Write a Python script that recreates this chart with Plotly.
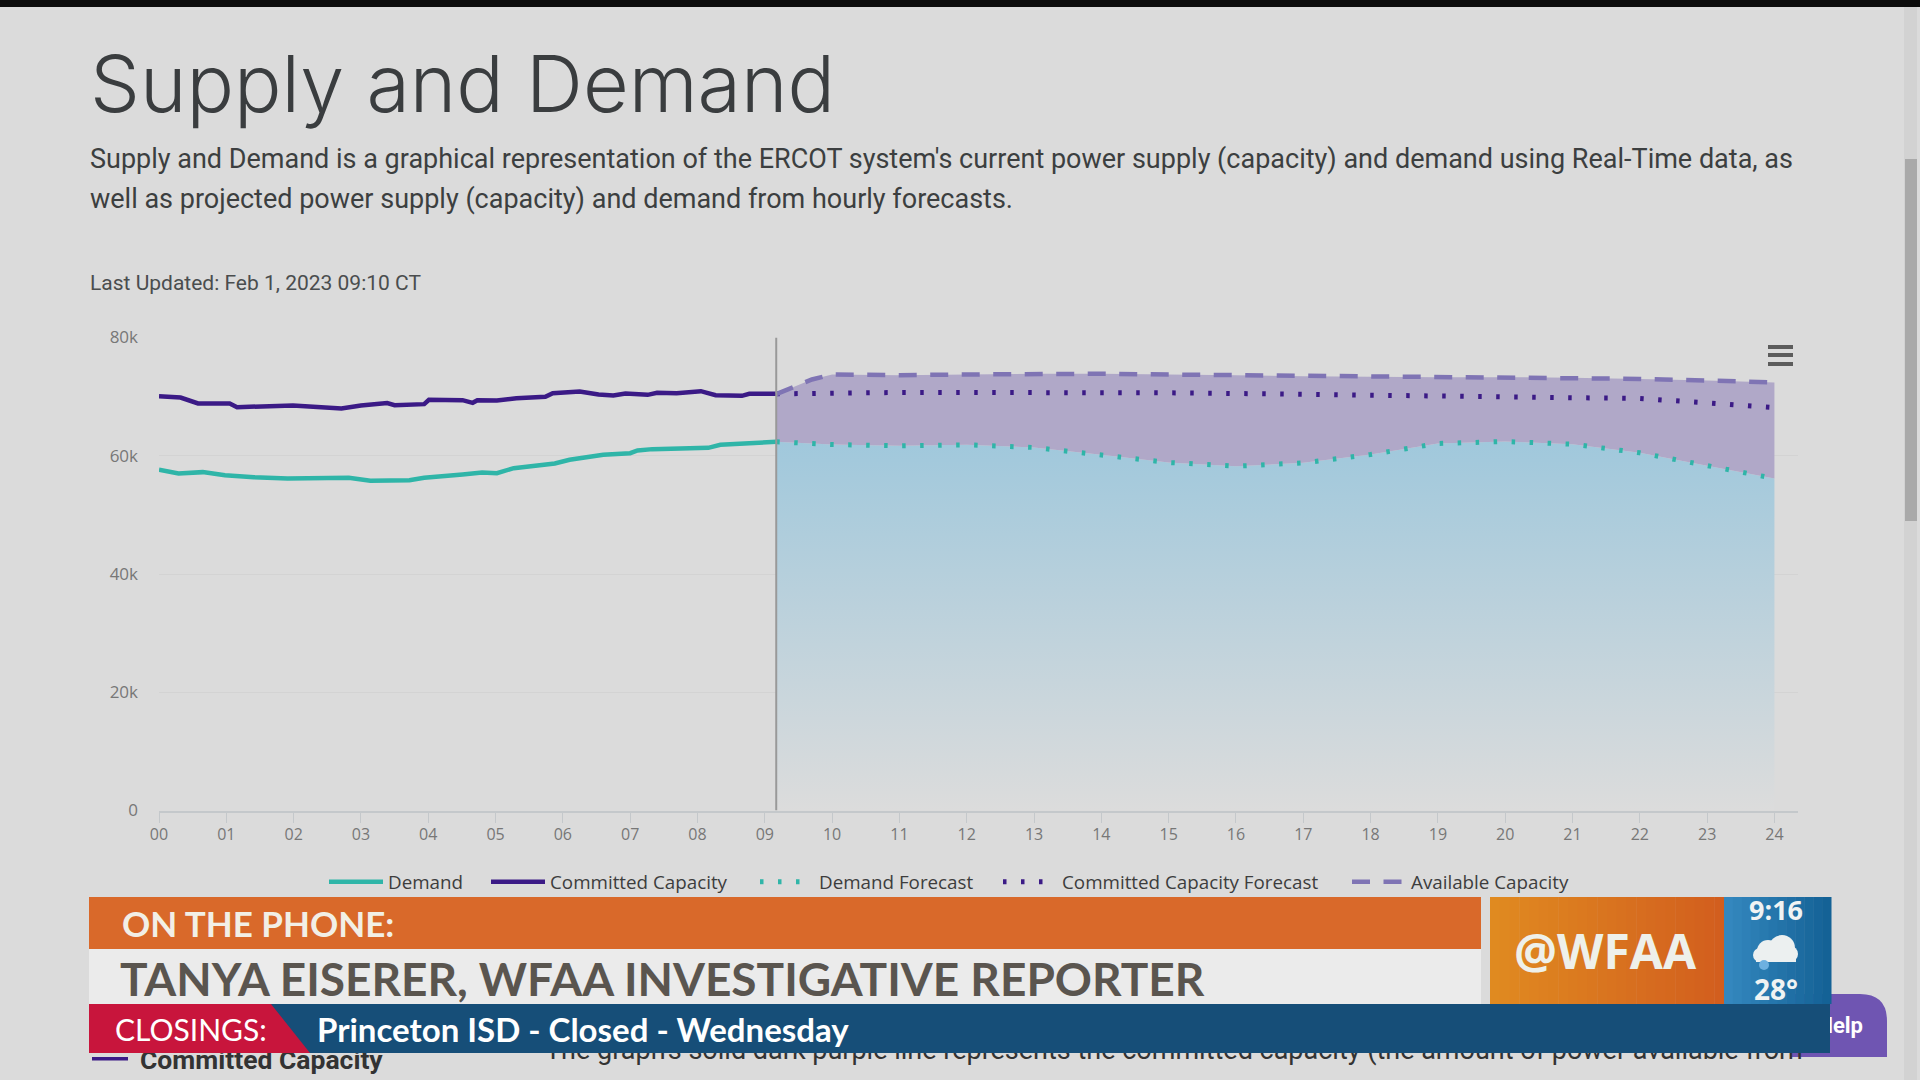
import plotly.graph_objects as go

# ---------- data (hours of the day, MW) ----------
demand_h = [0, .29, .65, .98, 1.41, 1.91, 2.82, 3.14, 3.72, 3.94, 4.51, 4.8, 5.02, 5.27, 5.88, 6.1, 6.6, 7.0, 7.11, 7.33, 8.16, 8.34, 8.77, 9.17]
demand_v = [57620, 57000, 57230, 56720, 56380, 56150, 56270, 55760, 55870, 56270, 56830, 57170, 57060, 57900, 58690, 59310, 60160, 60440, 60890, 61120, 61340, 61850, 62130, 62360]

committed_h = [0, .32, .58, 1.05, 1.16, 1.99, 2.71, 3.0, 3.39, 3.5, 3.94, 4.01, 4.51, 4.66, 4.73, 5.02, 5.31, 5.74, 5.85, 6.25, 6.53, 6.75, 6.93, 7.26, 7.4, 7.69, 8.05, 8.27, 8.66, 8.77, 9.17]
committed_v = [70080, 69850, 68840, 68840, 68220, 68500, 67990, 68500, 68900, 68560, 68730, 69460, 69400, 68950, 69400, 69350, 69740, 69970, 70590, 70870, 70360, 70190, 70530, 70300, 70640, 70590, 70920, 70250, 70130, 70470, 70470]

forecast_h = [9.17, 10, 11, 12, 13, 14, 15, 16, 17, 18, 19, 20, 21, 22, 23, 24]
demand_fc = [62360, 61900, 61680, 61850, 61400, 60160, 58860, 58240, 58800, 60210, 62070, 62410, 61960, 60500, 58300, 56160]
committed_fc = [70470, 70640, 70700, 70700, 70750, 70750, 70640, 70530, 70420, 70190, 70130, 70020, 69970, 69680, 68950, 68160]

available_h = [9.17, 9.4, 9.7, 10, 11, 12, 13, 14, 15, 16, 17, 18, 19, 20, 21, 22, 23, 24]
available_v = [70420, 71490, 72900, 73740, 73630, 73740, 73860, 73860, 73740, 73630, 73460, 73350, 73290, 73290, 73180, 73000, 72730, 72390]

now_hour = 9.17
x_ticks = list(range(25))
x_labels = [f"{h:02d}" for h in x_ticks]
y_ticks = [0, 20000, 40000, 60000, 80000]
y_labels = ["0", "20k", "40k", "60k", "80k"]

TEAL, INDIGO, LAV = "#2fb5a8", "#3b1a86", "#7f74b4"
BG = "#dbdbdb"
TICK_FONT = "Open Sans"
DOTS = "3.5px,14.5px"

fig = go.Figure()
# area fills (no legend entries)
fig.add_trace(go.Scatter(x=forecast_h, y=demand_fc, mode="none", showlegend=False, fill="tozeroy", hoverinfo="skip",
                         fillgradient=dict(type="vertical", colorscale=[[0, "#dcdcdc"], [1, "#a0c8dc"]])))
fig.add_trace(go.Scatter(x=available_h, y=available_v, mode="none", showlegend=False, fill="tonexty", hoverinfo="skip",
                         fillcolor="#b0a8c8"))
# lines
fig.add_trace(go.Scatter(x=demand_h, y=demand_v, name="Demand", mode="lines", legendwidth=93,
                         line=dict(color=TEAL, width=4.5)))
fig.add_trace(go.Scatter(x=committed_h, y=committed_v, name="Committed Capacity", mode="lines", legendwidth=200,
                         line=dict(color=INDIGO, width=4.5)))
fig.add_trace(go.Scatter(x=forecast_h, y=demand_fc, name="Demand Forecast", mode="lines", legendwidth=174,
                         line=dict(color=TEAL, width=5, dash=DOTS)))
fig.add_trace(go.Scatter(x=forecast_h, y=committed_fc, name="Committed Capacity Forecast", mode="lines", legendwidth=280,
                         line=dict(color=INDIGO, width=5, dash=DOTS)))
fig.add_trace(go.Scatter(x=available_h, y=available_v, name="Available Capacity", mode="lines", legendwidth=175,
                         line=dict(color=LAV, width=4.5, dash="18px,13.5px")))

# Page text that sits beneath the broadcast lower third
fig.add_trace(go.Scatter(
    x=[140, 545, 1863], y=[1062, 1052, 1027], xaxis="x2", yaxis="y2", mode="text", showlegend=False,
    text=["<b>Committed Capacity</b>",
          "The graph's solid dark purple line represents the committed capacity (the amount of power available from",
          "<b>Help</b>"],
    textposition=["middle right", "middle right", "middle left"],
    textfont=dict(family="Roboto", size=[26.5, 27, 22], color=["#333333", "#333333", "#ffffff"]),
    hoverinfo="skip"))

shapes = []


def rect(x0, y0, x1, y1, color, layer="above"):
    shapes.append(dict(type="rect", xref="x2", yref="y2", x0=x0, y0=y0, x1=x1, y1=y1,
                       fillcolor=color, line_width=0, layer=layer))


def gradient(x0, y0, x1, y1, c0, c1, n=24):
    step = (x1 - x0) / n
    for i in range(n):
        t = i / (n - 1)
        col = "rgb(%d,%d,%d)" % tuple(round(a + (b - a) * t) for a, b in zip(c0, c1))
        rect(x0 + i * step, y0, x0 + (i + 1) * step + .5, y1, col)


# browser frame
rect(0, 0, 1920, 7, "#0c0c0c")
rect(1904, 7, 1917, 1080, "#d2d2d2", "below")
rect(1905, 159, 1917, 521, "#a9a9a9", "below")
# hamburger
for yy in (347, 355, 364):
    rect(1768, yy - 2, 1793, yy + 2, "#5c5c5c")
# "now" line
shapes.append(dict(type="line", xref="x", yref="y", x0=now_hour, x1=now_hour, y0=0, y1=80000,
                   line=dict(color="#999999", width=2), layer="above"))
# help button
shapes.append(dict(type="path", xref="x2", yref="y2", layer="below", fillcolor="#6f55b2", line_width=0,
                   path="M 1790 1057 L 1790 994 L 1860 994 Q 1887 994 1887 1021 L 1887 1057 Z"))
# lower-third bars
rect(89, 897, 1481, 949, "#d9692a")
rect(89, 949, 1481, 1004, "#ebebeb")
gradient(1490, 897, 1724, 1004, (224, 138, 32), (210, 94, 30))
gradient(1724, 897, 1831, 1004, (52, 135, 190), (20, 98, 150), n=12)
rect(89, 1004, 1830, 1053, "#164e78")
shapes.append(dict(type="path", xref="x2", yref="y2", layer="above", fillcolor="#c8153c", line_width=0,
                   path="M 89 1004 L 271 1004 L 310 1053 L 89 1053 Z"))
rect(92, 1057, 128, 1060.5, "#3b1a86", "below")
# weather cloud
for cx, cy, r in ((1768, 951, 11), (1782, 948, 13), (1760, 955, 7), (1790, 954, 8)):
    shapes.append(dict(type="circle", xref="x2", yref="y2", x0=cx - r, x1=cx + r, y0=cy - r, y1=cy + r,
                       fillcolor="#ecf0f0", line_width=0, layer="above"))
rect(1756, 953, 1796, 962, "#ecf0f0")
shapes.append(dict(type="circle", xref="x2", yref="y2", x0=1759, x1=1769, y0=960, y1=970,
                   fillcolor="#6db0e0", line_width=0, layer="above"))


def note(x, y, text, size, color, family="Roboto", anchor="left", weight=None):
    f = dict(family=family, size=size, color=color)
    if weight:
        f["weight"] = weight
    return dict(xref="x2", yref="y2", x=x, y=y, text=text, showarrow=False, xanchor=anchor, yanchor="middle",
                font=f, align=anchor)


NARROW = "Lato"
annotations = [
    note(88, 83, "Supply and Demand", 79, "#3a3d3f", "Inter", weight=300),
    note(88, 159, "Supply and Demand is a graphical representation of the ERCOT system's current power supply (capacity) and demand using Real-Time data, as", 27, "#3c3f40"),
    note(88, 199, "well as projected power supply (capacity) and demand from hourly forecasts.", 27, "#3c3f40"),
    note(88, 283, "Last Updated: Feb 1, 2023 09:10 CT", 21, "#4a4d4e"),
    note(120, 923, "<b>ON THE PHONE:</b>", 35, "#f2efe6", NARROW),
    note(118, 978, "<b>TANYA EISERER, WFAA INVESTIGATIVE REPORTER</b>", 46, "#5a554f", NARROW),
    note(113, 1029, "CLOSINGS:", 30, "#ffffff", NARROW),
    note(315, 1029, "<b>Princeton ISD - Closed - Wednesday</b>", 33, "#ffffff", NARROW),
    note(1605, 950, "<b>@WFAA</b>", 48, "#eef0ea", "Open Sans", "center"),
    note(1776, 909, "<b>9:16</b>", 27, "#f0f3f3", "Open Sans", "center"),
    note(1776, 989, "<b>28°</b>", 28, "#f0f3f3", "Open Sans", "center"),
]

fig.update_layout(
    width=1920, height=1080, autosize=False, margin=dict(l=0, r=0, t=0, b=0, autoexpand=False),
    paper_bgcolor=BG, plot_bgcolor="rgba(0,0,0,0)",
    shapes=shapes, annotations=annotations,
    legend=dict(orientation="h", x=324 / 1920, xanchor="left", y=1 - 882 / 1080, yanchor="middle",
                font=dict(family=TICK_FONT, size=18.8, color="#3d3d3d"), itemwidth=54,
                bgcolor="rgba(0,0,0,0)", traceorder="normal"),
    xaxis=dict(domain=[159 / 1920, 1798 / 1920], range=[0, 24.35], tickvals=x_ticks, ticktext=x_labels,
               ticks="outside", ticklen=10, tickcolor="#c4c8cb", showgrid=False, showline=True,
               linecolor="#c4c8cb", linewidth=2, tickfont=dict(family=TICK_FONT, size=16, color="#777777"),
               ticklabelstandoff=-2, zeroline=False, anchor="y"),
    yaxis=dict(domain=[1 - 810.5 / 1080, 1 - 337.5 / 1080], range=[0, 80000], tickvals=y_ticks, ticktext=y_labels,
               gridcolor="#d3d3d3", gridwidth=1, showline=False, zeroline=False, ticklabelstandoff=20,
               tickfont=dict(family=TICK_FONT, size=17, color="#777777"), anchor="x"),
    xaxis2=dict(domain=[0, 1], range=[0, 1920], visible=False, anchor="y2", fixedrange=True),
    yaxis2=dict(domain=[0, 1], range=[1080, 0], visible=False, anchor="x2", fixedrange=True),
)

fig.write_html("out.html", config={"displayModeBar": False},
               post_script="document.body.style.margin='0';document.body.style.overflow='hidden';")
